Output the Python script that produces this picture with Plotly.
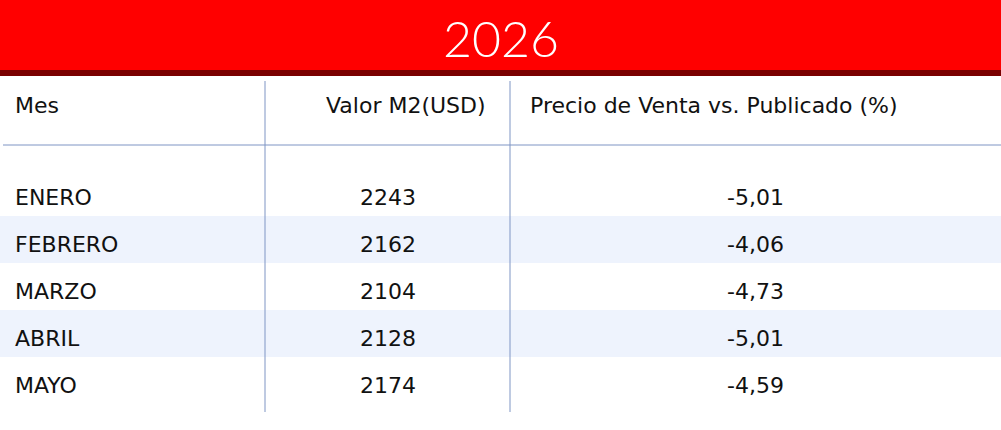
import plotly.graph_objects as go

title = "2026"
headers = ["Mes", "Valor M2(USD)", "Precio de Venta vs. Publicado (%)"]
meses = ["ENERO", "FEBRERO", "MARZO", "ABRIL", "MAYO"]
valor_m2 = [2243, 2162, 2104, 2128, 2174]
precio_vs_pub = ["-5,01", "-4,06", "-4,73", "-5,01", "-4,59"]

W, H = 1001, 430
row_y0, row_h = 197, 47
font = "DejaVu Sans"
fig = go.Figure()
shapes = [
    dict(type="rect", x0=0, x1=W, y0=0, y1=71, fillcolor="#ff0000", line_width=0, layer="below"),
    dict(type="rect", x0=0, x1=W, y0=70, y1=76, fillcolor="#7a0000", line_width=0, layer="below"),
]
for i in range(len(meses)):
    if i % 2 == 1:
        yc = row_y0 + i * row_h
        shapes.append(dict(type="rect", x0=0, x1=W, y0=yc - 28, y1=yc + 19,
                           fillcolor="#eef3fd", line_width=0, layer="below"))
lc = "#7f95c4"
shapes += [
    dict(type="line", x0=3, x1=W, y0=145, y1=145, line=dict(color=lc, width=1)),
    dict(type="line", x0=265, x1=265, y0=81, y1=412, line=dict(color=lc, width=1)),
    dict(type="line", x0=510, x1=510, y0=81, y1=412, line=dict(color=lc, width=1)),
]
ann = [dict(x=W / 2, y=38, text=title, showarrow=False,
            font=dict(family="Lato", size=50, color="white", weight=300))]
hf = dict(family=font, size=22, color="#111", weight=400)
ann += [
    dict(x=13, y=105, text=headers[0], xanchor="left", showarrow=False, font=hf),
    dict(x=488, y=105, text=headers[1], xanchor="right", showarrow=False, font=hf),
    dict(x=528, y=105, text=headers[2], xanchor="left", showarrow=False, font=hf),
]
for i, (m, v, p) in enumerate(zip(meses, valor_m2, precio_vs_pub)):
    y = row_y0 + i * row_h
    ann += [
        dict(x=13, y=y, text=m, xanchor="left", showarrow=False, font=hf),
        dict(x=388, y=y, text=str(v), showarrow=False, font=hf),
        dict(x=755, y=y, text=p, showarrow=False, font=hf),
    ]
fig.update_layout(width=W, height=H, margin=dict(l=0, r=0, t=0, b=0),
                  paper_bgcolor="white", plot_bgcolor="white",
                  shapes=shapes, annotations=ann, showlegend=False,
                  xaxis=dict(range=[0, W], visible=False, fixedrange=True),
                  yaxis=dict(range=[H, 0], visible=False, fixedrange=True))
fig.write_html("out.html", config={"displayModeBar": False},
               post_script="document.body.style.margin='0';document.body.style.overflow='hidden';")
